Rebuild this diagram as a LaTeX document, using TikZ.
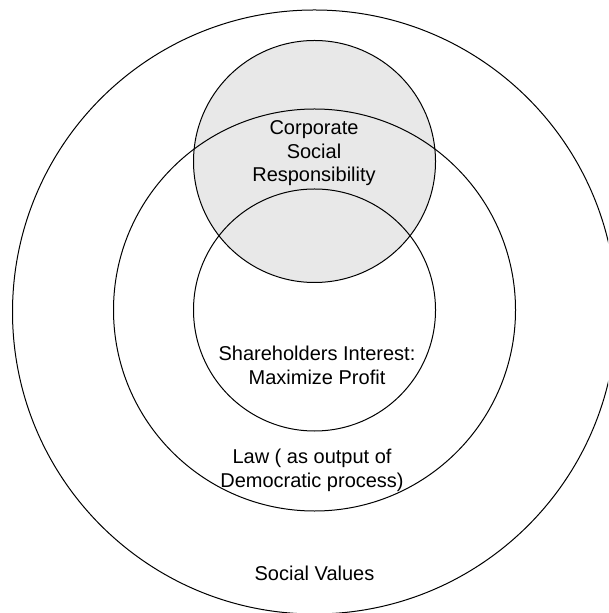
\documentclass[tikz,border=0pt]{standalone}
\usepackage{fontspec}
\setmainfont{Liberation Sans}
\definecolor{csrgray}{RGB}{232,232,232}
\begin{document}
\begin{tikzpicture}[x=0.5pt,y=-0.5pt,
	ring/.style={draw=black, line width=0.5pt},
	lbl/.style={align=center, anchor=base, inner sep=0pt, font=\fontsize{10}{11.7}\selectfont}]
	\useasboundingbox (0,0) rectangle (608,613);
	\clip (0,0) rectangle (608,613);
	\fill[csrgray] (314.5,161.5) circle (121);
	\draw[ring] (314.5,312) circle (302);
	\draw[ring] (314.5,310) circle (201);
	\draw[ring] (314.5,310) circle (121);
	\draw[ring] (314.5,161.5) circle (121);
	\node[lbl] (csr) at (314,181.5) {Corporate\\Social\\Responsibility};
	\node[lbl] (shareholders) at (317,384) {Shareholders Interest:\\Maximize Profit};
	\node[lbl] (law) at (312,487) {Law ( as output of\\Democratic process)};
	\node[lbl] (social) at (314.5,580) {Social Values};
\end{tikzpicture}
\end{document}
